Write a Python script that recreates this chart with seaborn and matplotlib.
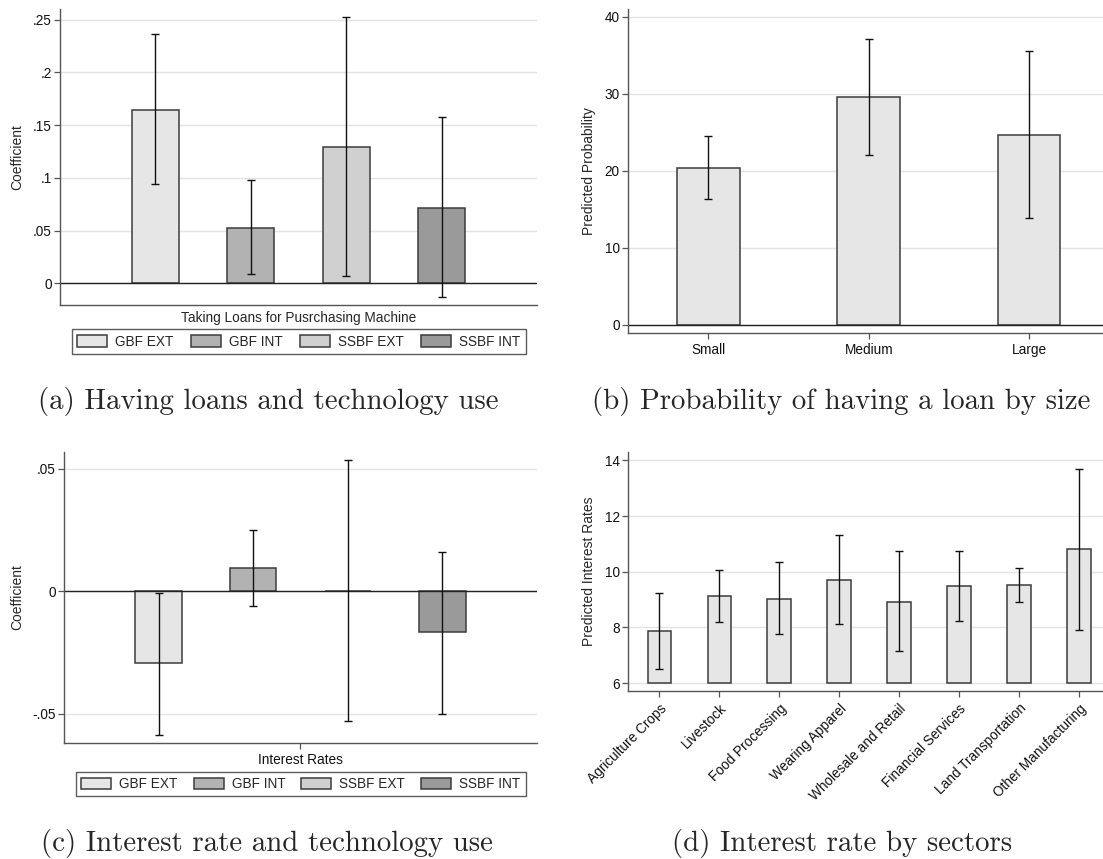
import numpy as np
import matplotlib
matplotlib.use("Agg")
import matplotlib.pyplot as plt
from matplotlib.patches import Patch
import seaborn as sns

# (a) loans for machines and technology use
groups = ["GBF EXT", "GBF INT", "SSBF EXT", "SSBF INT"]
loan_coef = np.array([0.1646, 0.0528, 0.1294, 0.0715])
loan_lo = np.array([0.0940, 0.0092, 0.0066, -0.0133])
loan_hi = np.array([0.2361, 0.0975, 0.2525, 0.1573])
loan_yticks = [0, 0.05, 0.10, 0.15, 0.20, 0.25]
loan_yticklabels = ["0", ".05", ".1", ".15", ".2", ".25"]

# (b) probability of having a loan by firm size
sizes = ["Small", "Medium", "Large"]
size_prob = np.array([20.3, 29.6, 24.6])
size_lo = np.array([16.3, 22.1, 13.8])
size_hi = np.array([24.5, 37.1, 35.5])

# (c) interest rate and technology use
rate_coef = np.array([-0.0294, 0.0094, 0.0003, -0.0166])
rate_lo = np.array([-0.0585, -0.0060, -0.0529, -0.0499])
rate_hi = np.array([-0.0008, 0.0251, 0.0534, 0.0162])
rate_yticks = [-0.05, 0, 0.05]
rate_yticklabels = ["-.05", "0", ".05"]

# (d) predicted interest rate by sector
sectors = ["Agriculture Crops", "Livestock", "Food Processing", "Wearing Apparel",
           "Wholesale and Retail", "Financial Services", "Land Transportation",
           "Other Manufacturing"]
sector_rate = np.array([7.86, 9.13, 9.02, 9.69, 8.93, 9.49, 9.51, 10.80])
sector_lo = np.array([6.51, 8.20, 7.76, 8.11, 7.16, 8.22, 8.91, 7.92])
sector_hi = np.array([9.23, 10.07, 10.34, 11.31, 10.75, 10.75, 10.13, 13.70])

group_colors = ["#e6e6e6", "#b2b2b2", "#d0d0d0", "#9a9a9a"]
bar_fill = "#e6e6e6"
edge = "#3c3c3c"
axis_col = "#555555"

sns.set_style("white")
plt.rcParams["font.family"] = ["Liberation Sans", "DejaVu Sans"]
plt.rcParams["axes.edgecolor"] = axis_col
plt.rcParams["xtick.color"] = axis_col
plt.rcParams["ytick.color"] = axis_col
plt.rcParams["xtick.labelcolor"] = "#111111"
plt.rcParams["ytick.labelcolor"] = "#111111"

fig = plt.figure(figsize=(11.03, 8.59), dpi=100)
ax_a = fig.add_axes([0.0544, 0.6449, 0.4325, 0.3446])
ax_b = fig.add_axes([0.5694, 0.6123, 0.4306, 0.3772])
ax_c = fig.add_axes([0.0580, 0.1350, 0.4288, 0.3388])
ax_d = fig.add_axes([0.5694, 0.1956, 0.4306, 0.2782])


def style_axis(ax):
    sns.despine(ax=ax)
    ax.spines["left"].set_linewidth(1.0)
    ax.spines["bottom"].set_linewidth(1.0)
    ax.yaxis.grid(True, color="#e4e4e4", linewidth=1.0)
    ax.set_axisbelow(True)
    ax.tick_params(axis="both", length=4, width=0.9, labelsize=9.8, direction="out",
                   left=True, bottom=True)
    ax.tick_params(axis="y", pad=2)


def add_ci(ax, mid, lo, hi):
    ax.errorbar(np.arange(len(mid)), mid, yerr=[mid - lo, hi - mid], fmt="none",
                ecolor="#111111", elinewidth=1.0, capsize=2.8, capthick=1.0, zorder=5)


# (a)
sns.barplot(x=groups, y=loan_coef, hue=groups, palette=group_colors, width=0.49,
            edgecolor=edge, linewidth=1.1, legend=False, ax=ax_a)
add_ci(ax_a, loan_coef, loan_lo, loan_hi)
style_axis(ax_a)
ax_a.axhline(0, color="#222222", linewidth=1.0, zorder=1)
ax_a.set_xlim(-1, 4)
ax_a.set_ylim(-0.0206, 0.260)
ax_a.set_yticks(loan_yticks)
ax_a.set_yticklabels(loan_yticklabels)
ax_a.set_xticks([])
ax_a.set_xlabel("Taking Loans for Pusrchasing Machine", fontsize=9.8, labelpad=4)
ax_a.set_ylabel("Coefficient", fontsize=10, labelpad=6)

# (c)
sns.barplot(x=groups, y=rate_coef, hue=groups, palette=group_colors, width=0.49,
            edgecolor=edge, linewidth=1.1, legend=False, ax=ax_c)
add_ci(ax_c, rate_coef, rate_lo, rate_hi)
style_axis(ax_c)
ax_c.axhline(0, color="#222222", linewidth=1.0, zorder=1)
ax_c.set_xlim(-1, 4)
ax_c.set_ylim(-0.0619, 0.0568)
ax_c.set_yticks(rate_yticks)
ax_c.set_yticklabels(rate_yticklabels)
ax_c.set_xticks([1.5])
ax_c.set_xticklabels(["Interest Rates"])
ax_c.set_xlabel("")
ax_c.set_ylabel("Coefficient", fontsize=10, labelpad=6)

for ax, ytop in [(ax_a, -0.082), (ax_c, -0.098)]:
    handles = [Patch(facecolor=c, edgecolor=edge, linewidth=1.1) for c in group_colors]
    leg = ax.legend(handles, groups, loc="upper left", bbox_to_anchor=(0.025, ytop, 0.952, 0),
                    mode="expand", ncol=4, fontsize=9.8, frameon=True, fancybox=False,
                    handlelength=2.2, handleheight=0.9, handletextpad=0.6,
                    borderpad=0.4, borderaxespad=0)
    leg.get_frame().set_edgecolor("#333333")
    leg.get_frame().set_linewidth(1.0)

# (b)
sns.barplot(x=sizes, y=size_prob, color=bar_fill, width=0.39, edgecolor=edge,
            linewidth=1.1, saturation=1, ax=ax_b)
add_ci(ax_b, size_prob, size_lo, size_hi)
style_axis(ax_b)
ax_b.axhline(0, color="#222222", linewidth=1.0, zorder=1)
ax_b.set_xlim(-0.50, 2.46)
ax_b.set_ylim(-1.08, 41.0)
ax_b.set_yticks([0, 10, 20, 30, 40])
ax_b.set_ylabel("Predicted Probability", fontsize=10, labelpad=6)
ax_b.set_xlabel("")

# (d)
sns.barplot(x=sectors, y=sector_rate, color=bar_fill, width=0.39, edgecolor=edge,
            linewidth=1.1, saturation=1, ax=ax_d)
for p in ax_d.patches:
    h = p.get_height()
    p.set_y(6)
    p.set_height(h - 6)
add_ci(ax_d, sector_rate, sector_lo, sector_hi)
style_axis(ax_d)
ax_d.set_xlim(-0.52, 7.4)
ax_d.set_ylim(5.72, 14.3)
ax_d.set_yticks([6, 8, 10, 12, 14])
ax_d.set_xticks(range(len(sectors)))
ax_d.set_xticklabels(sectors, rotation=45, ha="right", rotation_mode="anchor")
ax_d.set_ylabel("Predicted Interest Rates", fontsize=10, labelpad=6)
ax_d.set_xlabel("")

# captions
cap = dict(fontfamily="cmr10", fontsize=20.8, ha="center", va="center")
fig.text(268 / 1103, 1 - 402 / 859, "(a) Having loans and technology use", **cap)
fig.text(841 / 1103, 1 - 402 / 859, "(b) Probability of having a loan by size", **cap)
fig.text(267 / 1103, 1 - 843 / 859, "(c) Interest rate and technology use", **cap)
fig.text(842 / 1103, 1 - 843 / 859, "(d) Interest rate by sectors", **cap)

fig.savefig("out.png", dpi=100)
